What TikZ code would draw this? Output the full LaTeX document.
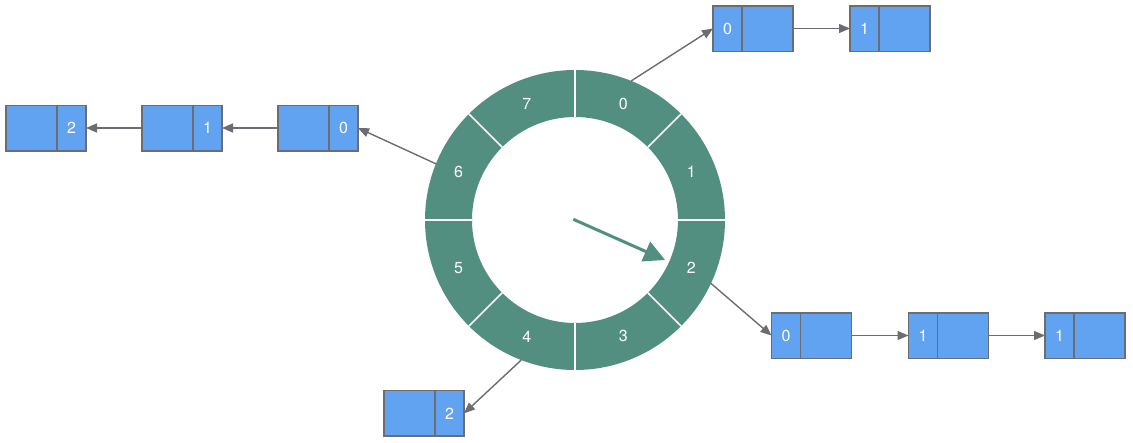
\documentclass[tikz,border=0pt]{standalone}
\usepackage{fontspec}
\setmainfont{TeX Gyre Heros}
\usetikzlibrary{arrows.meta}
\definecolor{ringc}{HTML}{528F80}
\definecolor{cellc}{HTML}{62A3F1}
\definecolor{edgec}{HTML}{6C6D72}
\begin{document}
\begin{tikzpicture}[x=1pt,y=-1pt,
  cellbox/.style={draw=edgec,line width=1.5pt,fill=cellc,minimum height=45.5pt,inner sep=0pt,outer sep=0pt,text=white,font=\fontsize{16}{16}\selectfont},
  narrowcell/.style={cellbox,minimum width=29pt},
  widecell/.style={cellbox,minimum width=51pt},
  link/.style={draw=edgec,line width=1.4pt,-{Triangle[length=11pt,width=9pt]}},
  ringlabel/.style={text=white,font=\fontsize{16}{16}\selectfont,inner sep=0pt},
  sepline/.style={white,line width=1.5pt},
  pointer/.style={draw=ringc,line width=3pt,-{Triangle[length=21pt,width=21pt]}}
]
\useasboundingbox (0,0) rectangle (1133,442);

% ring
\begin{scope}[shift={(575,220)}]
  \fill[ringc,even odd rule] (0,0) circle[radius=150] (0,0) circle[radius=103];
  \foreach \a in {0,45,...,315} \draw[sepline] (\a:103) -- (\a:150);
  \foreach \k in {0,...,7} \node[ringlabel] (lab\k) at ({45*\k-67.5}:126) {\k};
  \coordinate (s0) at (-68:150);
  \coordinate (s6) at (-158:150);
  \coordinate (s2) at (25:150);
  \coordinate (s4) at (111:150);
  \coordinate (hub) at (-1.7,-0.7);
  \coordinate (hand) at (90,40);
\end{scope}
\draw[pointer] (hub) -- (hand);

% top row
\node[narrowcell] (t0) at (727.5,28.5) {0};
\node[widecell,anchor=west] (t0w) at (t0.east) {};
\node[narrowcell] (t1) at (864.5,28.5) {1};
\node[widecell,anchor=west] (t1w) at (t1.east) {};
\draw[link] (s0) -- (t0.west);
\draw[link] (t0w.east) -- (t1.west);

% left row
\node[narrowcell] (l0) at (343.5,128) {0};
\node[widecell,anchor=east] (l0w) at (l0.west) {};
\node[narrowcell] (l1) at (207.5,128) {1};
\node[widecell,anchor=east] (l1w) at (l1.west) {};
\node[narrowcell] (l2) at (71.5,128) {2};
\node[widecell,anchor=east] (l2w) at (l2.west) {};
\draw[link] (s6) -- (l0.east);
\draw[link] (l0w.west) -- (l1.east);
\draw[link] (l1w.west) -- (l2.east);

% bottom-right row
\node[narrowcell] (r0) at (786,335.5) {0};
\node[widecell,anchor=west] (r0w) at (r0.east) {};
\node[narrowcell] (r1) at (923,335.5) {1};
\node[widecell,anchor=west] (r1w) at (r1.east) {};
\node[narrowcell] (r2) at (1059.5,335.5) {1};
\node[widecell,anchor=west] (r2w) at (r2.east) {};
\draw[link] (s2) -- (r0.west);
\draw[link] (r0w.east) -- (r1.west);
\draw[link] (r1w.east) -- (r2.west);

% bottom
\node[narrowcell] (b0) at (449.5,413.4) {2};
\node[widecell,anchor=east] (b0w) at (b0.west) {};
\draw[link] (s4) -- (b0.east);
\end{tikzpicture}
\end{document}
